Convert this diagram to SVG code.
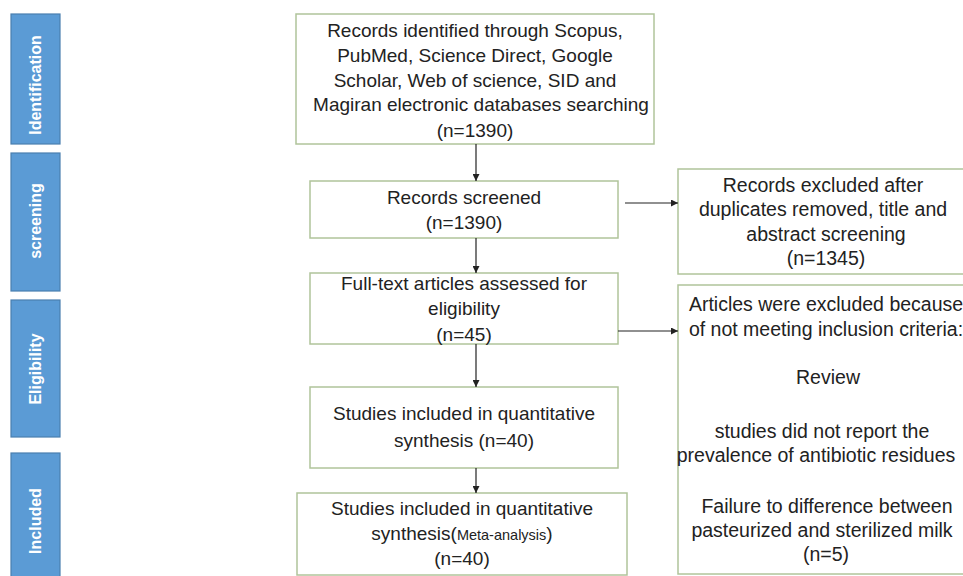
<svg xmlns="http://www.w3.org/2000/svg" width="963" height="576" viewBox="0 0 963 576">
<defs>
<marker id="ah" viewBox="0 0 10 10" refX="10" refY="5" markerWidth="7" markerHeight="7" markerUnits="userSpaceOnUse" orient="auto"><path d="M0,0 L10,5 L0,10 z" fill="#222"/></marker>
<style>
.phase{fill:#5b9bd5;stroke:#4a7fb0;stroke-width:1.2}
.ptxt{fill:#fff;font-family:"Liberation Sans",Arial,sans-serif;font-weight:bold;font-size:16px;text-anchor:middle}
.box{fill:#fff;stroke:#b0c49a;stroke-width:1.5}
.t{fill:#222;font-family:"Liberation Sans",Arial,sans-serif;font-size:19px;text-anchor:middle}
.r{font-size:19.5px}
.sm{font-size:14.5px}
.con{stroke:#222;stroke-width:1.2;fill:none;marker-end:url(#ah)}
</style>
</defs>
<rect width="963" height="576" fill="#fff"/>
<g id="phase-identification"><rect class="phase" x="11" y="14" width="49" height="130"/><text class="ptxt" transform="translate(41,85) rotate(-90)">Identification</text></g>
<g id="phase-screening"><rect class="phase" x="11" y="153" width="49" height="138"/><text class="ptxt" transform="translate(41,221) rotate(-90)">screening</text></g>
<g id="phase-eligibility"><rect class="phase" x="11" y="300" width="49" height="137"/><text class="ptxt" transform="translate(41,369) rotate(-90)">Eligibility</text></g>
<g id="phase-included"><rect class="phase" x="11" y="453" width="49" height="130"/><text class="ptxt" transform="translate(41,521) rotate(-90)">Included</text></g>

<g id="identified"><rect class="box" x="296" y="14" width="358" height="130"/>
<text class="t" x="475" y="37">Records identified through Scopus,</text>
<text class="t" x="475" y="62">PubMed, Science Direct, Google</text>
<text class="t" x="475" y="87">Scholar, Web of  science, SID and</text>
<text class="t" x="481" y="111">Magiran electronic databases searching</text>
<text class="t" x="475" y="137">(n=1390)</text></g>

<g id="screened"><rect class="box" x="310" y="181" width="308" height="57"/>
<text class="t" x="464" y="204">Records screened</text>
<text class="t" x="464" y="229">(n=1390)</text></g>

<g id="fulltext"><rect class="box" x="310" y="273" width="308" height="71"/>
<text class="t" x="464" y="290">Full-text articles assessed for</text>
<text class="t" x="464" y="315">eligibility</text>
<text class="t" x="464" y="341">(n=45)</text></g>

<g id="quant"><rect class="box" x="310" y="387" width="308" height="81"/>
<text class="t" x="464" y="420">Studies included in quantitative</text>
<text class="t" x="464" y="447">synthesis (n=40)</text></g>

<g id="meta"><rect class="box" x="297" y="493" width="330" height="82"/>
<text class="t" x="462" y="515">Studies included in quantitative</text>
<text class="t" x="462" y="540">synthesis(<tspan class="sm">Meta-analysis</tspan>)</text>
<text class="t" x="462" y="565">(n=40)</text></g>

<g id="excluded1"><rect class="box" x="678" y="169" width="300" height="105"/>
<text class="t r" x="823" y="192">Records excluded after</text>
<text class="t r" x="823" y="216">duplicates removed, title and</text>
<text class="t r" x="826" y="241">abstract screening</text>
<text class="t r" x="826" y="265">(n=1345)</text></g>

<g id="excluded2"><rect class="box" x="678" y="285" width="300" height="289"/>
<text class="t r" x="826" y="311">Articles were excluded because</text>
<text class="t r" x="826" y="336">of not meeting inclusion criteria:</text>
<text class="t r" x="828" y="384">Review</text>
<text class="t r" x="822" y="438">studies did not report the</text>
<text class="t r" x="816" y="462">prevalence of antibiotic residues</text>
<text class="t r" x="827" y="513">Failure to difference between</text>
<text class="t r" x="822" y="537">pasteurized and sterilized milk</text>
<text class="t r" x="826" y="561">(n=5)</text></g>

<g id="connectors">
<line class="con" x1="476" y1="144" x2="476" y2="181"/>
<line class="con" x1="476" y1="238" x2="476" y2="273"/>
<line class="con" x1="476" y1="344" x2="476" y2="387"/>
<line class="con" x1="476" y1="468" x2="476" y2="493"/>
<line class="con" x1="625" y1="203" x2="678" y2="203"/>
<line class="con" x1="618" y1="331" x2="678" y2="331"/>
</g>
</svg>
